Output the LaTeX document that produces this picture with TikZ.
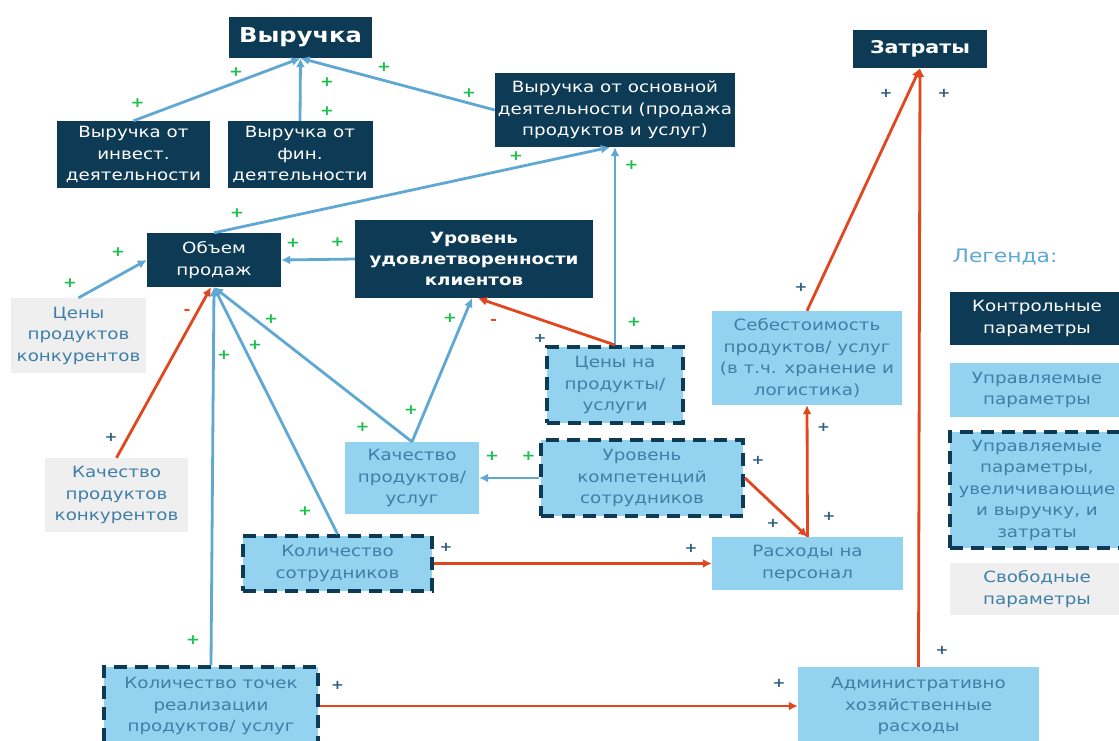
\documentclass[tikz,border=0pt]{standalone}
\usepackage{fontspec}
\setmainfont[FakeStretch=1.18]{DejaVu Sans}
\usetikzlibrary{arrows.meta}
\definecolor{navy}{HTML}{0D3B56}
\definecolor{lblue}{HTML}{93D3EF}
\definecolor{tblue}{HTML}{3F7FA8}
\definecolor{ablue}{HTML}{5FA8D3}
\definecolor{ared}{HTML}{E2461D}
\definecolor{lgray}{HTML}{EFEFEF}
\definecolor{pgreen}{HTML}{1DBF4F}
\definecolor{pdark}{HTML}{2E5E86}

\begin{document}
\begin{tikzpicture}[x=1pt, y=-1pt,
  every node/.style = {align=center, inner sep=0pt, font=\fontsize{15.5}{21.5}\selectfont},
  ctrl/.style = {fill=navy, text=white},
  upr/.style = {fill=lblue, text=tblue},
  both/.style = {upr, draw=navy, line width=4pt, dash pattern=on 13pt off 8pt},
  free/.style = {fill=lgray, text=tblue},
  barr/.style = {draw=ablue, line width=2.8pt, -{Latex[length=9pt,width=9pt]}},
  rarr/.style = {draw=ared, line width=2.8pt, -{Latex[length=9pt,width=9pt]}},
  gp/.style = {text=pgreen, font=\bfseries\fontsize{14}{14}\selectfont},
  dp/.style = {text=pdark, font=\bfseries\fontsize{13}{13}\selectfont},
  rm/.style = {text=ared, font=\bfseries\fontsize{14}{14}\selectfont}]
\fill[white] (0,0) rectangle (1119,740);
\useasboundingbox (0,0) rectangle (1119,740);

% control parameters
\node[ctrl, minimum width=143pt, minimum height=41pt, font=\bfseries\fontsize{20.5}{20.5}\selectfont] (vyr) at (300.5,37.5) {Выручка};
\node[ctrl, minimum width=153pt, minimum height=67pt] (inv) at (133.5,154.5) {Выручка от\\инвест.\\деятельности};
\node[ctrl, minimum width=145pt, minimum height=67pt] (fin) at (300,154.5) {Выручка от\\фин.\\деятельности};
\node[ctrl, minimum width=240pt, minimum height=74pt] (osn) at (615,110) {Выручка от основной\\деятельности (продажа\\продуктов и услуг)};
\node[ctrl, minimum width=134pt, minimum height=38pt, font=\bfseries\fontsize{17.5}{17.5}\selectfont] (zat) at (920,49) {Затраты};
\node[ctrl, minimum width=134pt, minimum height=54pt] (obm) at (214,260) {Объем\\продаж};
\node[ctrl, minimum width=238pt, minimum height=78pt, font=\bfseries\fontsize{15.5}{21}\selectfont] (urov) at (474,259) {Уровень\\удовлетворенности\\клиентов};

% free parameters
\node[free, minimum width=135pt, minimum height=75pt] (cenk) at (78.5,335.5) {Цены\\продуктов\\конкурентов};
\node[free, minimum width=143pt, minimum height=74pt] (kachk) at (116.5,495) {Качество\\продуктов\\конкурентов};

% managed parameters
\node[both, minimum width=136pt, minimum height=76pt] (cenp) at (615,385) {Цены на\\продукты/\\услуги};
\node[upr, minimum width=190pt, minimum height=94pt] (seb) at (807,358) {Себестоимость\\продуктов/ услуг\\(в т.ч. хранение и\\логистика)};
\node[upr, minimum width=134pt, minimum height=72pt] (kach) at (412,478) {Качество\\продуктов/\\услуг};
\node[both, minimum width=202pt, minimum height=76pt] (komp) at (642,478) {Уровень\\компетенций\\сотрудников};
\node[both, minimum width=189pt, minimum height=55pt] (ksotr) at (337.5,563.5) {Количество\\сотрудников};
\node[upr, minimum width=191pt, minimum height=53pt] (rasp) at (807.5,563.5) {Расходы на\\персонал};
\node[both, minimum width=214pt, minimum height=78pt] (ktoch) at (211,706) {Количество точек\\реализации\\продуктов/ услуг};
\node[upr, minimum width=241pt, minimum height=78pt] (adm) at (918.5,706) {Административно\\хозяйственные\\расходы};

% legend
\node[text=ablue, font=\fontsize{18.5}{18.5}\selectfont] (leg) at (1005,257) {Легенда:};
\node[ctrl, minimum width=174pt, minimum height=53pt] (l1) at (1037,318.5) {Контрольные\\параметры};
\node[upr, minimum width=174pt, minimum height=54pt] (l2) at (1037,390) {Управляемые\\параметры};
\node[both, minimum width=174pt, minimum height=116pt] (l3) at (1037,490) {Управляемые\\параметры,\\увеличивающие\\и выручку, и\\затраты};
\node[free, minimum width=174pt, minimum height=52pt] (l4) at (1037,589) {Свободные\\параметры};

% links
\draw[barr] (inv.north) -- (vyr.south);
\draw[barr] (fin.north) -- (vyr.south);
\draw[barr] (osn.west) -- (vyr.south);
\draw[barr] (obm.north) -- ([xshift=-5pt]osn.south);
\draw[barr] (cenp.north) -- (osn.south);
\draw[barr] (urov.west) -- (obm.east);
\draw[barr] (cenk.north) -- (obm.west);
\draw[rarr] (kachk.north) -- ([xshift=-3pt]obm.south);
\draw[barr] (ktoch.north) -- (obm.south);
\draw[barr] (ksotr.north) -- (obm.south);
\draw[barr] (kach.north) -- (obm.south);
\draw[barr] (kach.north) -- ([xshift=-2pt]urov.south);
\draw[rarr] (cenp.north) -- ([xshift=4pt]urov.south);
\draw[barr] (komp.west) -- (kach.east);
\draw[rarr] (komp.east) -- (rasp.north);
\draw[rarr] (rasp.north) -- (seb.south);
\draw[rarr] (seb.north) -- (zat.south);
\draw[rarr] (adm.north) -- (zat.south);
\draw[rarr] (ksotr.east) -- (rasp.west);
\draw[rarr] (ktoch.east) -- (adm.west);

% signs
\node[gp] (s1) at (236,72) {+};
\node[gp] (s2) at (137.5,103) {+};
\node[gp] (s3) at (327,82) {+};
\node[gp] (s4) at (327,111) {+};
\node[gp] (s5) at (384,67) {+};
\node[gp] (s6) at (469,93) {+};
\node[gp] (s7) at (516,156) {+};
\node[gp] (s8) at (237,213) {+};
\node[gp] (s9) at (631.5,165) {+};
\node[gp] (s10) at (634,322) {+};
\node[gp] (s11) at (293,243) {+};
\node[gp] (s12) at (337.5,242) {+};
\node[gp] (s13) at (118,252) {+};
\node[gp] (s14) at (70,283) {+};
\node[rm] (s15) at (187,312) {-};
\node[dp] (s16) at (111,437) {+};
\node[gp] (s17) at (271,319) {+};
\node[gp] (s18) at (255,345) {+};
\node[gp] (s19) at (224,355) {+};
\node[gp] (s20) at (305,511) {+};
\node[gp] (s21) at (193,640) {+};
\node[gp] (s22) at (450,318) {+};
\node[gp] (s23) at (411,410) {+};
\node[gp] (s24) at (362.5,427) {+};
\node[rm] (s25) at (493.5,322) {-};
\node[dp] (s26) at (540,338) {+};
\node[gp] (s27) at (492,456) {+};
\node[gp] (s28) at (528.5,456) {+};
\node[dp] (s29) at (758,460) {+};
\node[dp] (s30) at (773,523) {+};
\node[dp] (s31) at (829,516) {+};
\node[dp] (s32) at (823.5,427) {+};
\node[dp] (s33) at (801,287) {+};
\node[dp] (s34) at (886,93) {+};
\node[dp] (s35) at (944,93) {+};
\node[dp] (s36) at (942,650) {+};
\node[dp] (s37) at (446,547) {+};
\node[dp] (s38) at (691,548) {+};
\node[dp] (s39) at (337.5,685) {+};
\node[dp] (s40) at (779,683) {+};
\end{tikzpicture}
\end{document}
